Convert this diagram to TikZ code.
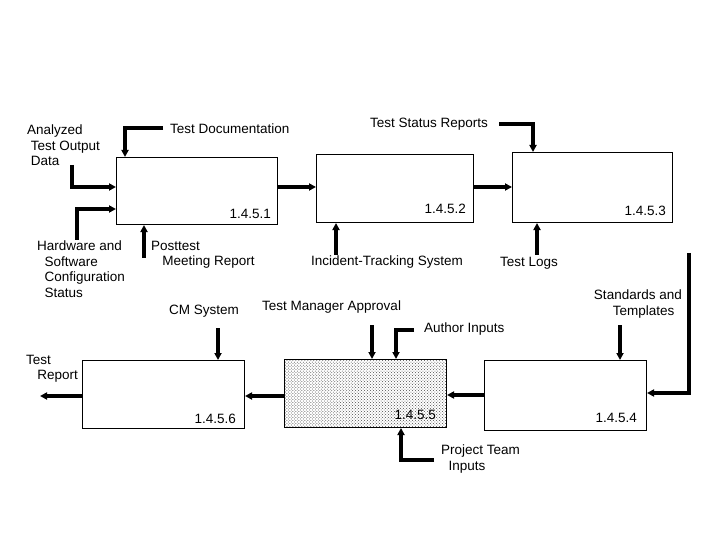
\documentclass[tikz,border=0pt]{standalone}
\usepackage{fontspec}
\setmainfont{Liberation Sans}
\usetikzlibrary{patterns,arrows.meta}
\begin{document}
\begin{tikzpicture}[x=1bp,y=-1bp,
 box/.style={draw,line width=1bp,fill=white},
 flow/.style={line width=3.2bp,-{Triangle[length=7bp,width=7bp]}},
 lbl/.style={font=\fontsize{13.5bp}{15.5bp}\selectfont,align=left,inner sep=0},
 num/.style={font=\fontsize{13.5bp}{15bp}\selectfont,inner sep=0,anchor=base east}]
\useasboundingbox (0,0) rectangle (720,540);
\node[box,minimum width=161bp,minimum height=67bp,anchor=north west] (b1) at (116,157) {};
\node[box,minimum width=157bp,minimum height=68bp,anchor=north west] (b2) at (316,154) {};
\node[box,minimum width=160bp,minimum height=70bp,anchor=north west] (b3) at (512,152) {};
\node[box,minimum width=162bp,minimum height=70bp,anchor=north west] (b4) at (484,360) {};
\node[box,minimum width=162bp,minimum height=68bp,anchor=north west,pattern=crosshatch dots,pattern color=black!70] (b5) at (284,359) {};
\node[box,minimum width=162bp,minimum height=68bp,anchor=north west] (b6) at (82,360) {};
\node[num] (n1) at (271,219) {1.4.5.1};
\node[num] (n2) at (466,214) {1.4.5.2};
\node[num] (n3) at (666,216) {1.4.5.3};
\node[num] (n4) at (637,422) {1.4.5.4};
\node[num] (n5) at (436,419) {1.4.5.5};
\node[num] (n6) at (236,423) {1.4.5.6};

\node[lbl,anchor=north west] (l1) at (27,125) {Analyzed\\\ Test Output\\\ Data};
\node[lbl,anchor=north west] (l2) at (37,241) {Hardware and\\\ \ Software\\\ \ Configuration\\\ \ Status};
\node[lbl,anchor=west] (l3) at (170,129) {Test Documentation};
\node[lbl,anchor=north west] (l4) at (151,241) {Posttest\\\ \ \ Meeting Report};
\node[lbl,anchor=west] (l5) at (370,124) {Test Status Reports};
\node[lbl,anchor=west] (l6) at (311,262) {Incident-Tracking System};
\node[lbl,anchor=west] (l7) at (500,263) {Test Logs};
\node[lbl,anchor=west] (l8) at (169,311) {CM System};
\node[lbl,anchor=west] (l9) at (262,307) {Test Manager Approval};
\node[lbl,anchor=west] (l10) at (424,329) {Author Inputs};
\node[lbl,anchor=north east,align=right] (l11) at (682,290) {Standards and\\Templates\ \ \ };
\node[lbl,anchor=north west] (l12) at (26,355) {Test\\\ \ \ Report};
\node[lbl,anchor=north west] (l13) at (441,445) {Project Team\\\ \ Inputs};

\coordinate (a1) at (72,165);
\draw[flow] (a1) |- (b1.west |- 0,187);
\coordinate (a2) at (77,240);
\draw[flow] (a2) |- (b1.west |- 0,209);
\coordinate (a3) at (163,128);
\draw[flow] (a3) -| (b1.north west -| 125,0);
\coordinate (a4) at (144,258);
\draw[flow] (a4) -- (b1.south -| 144,0);
\draw[flow] (b1.east |- 0,187) -- (b2.west |- 0,187);
\coordinate (a6) at (336,255);
\draw[flow] (a6) -- (b2.south -| 336,0);
\draw[flow] (b2.east |- 0,187) -- (b3.west |- 0,187);
\coordinate (a5) at (499,124);
\draw[flow] (a5) -| (b3.north -| 533,0);
\coordinate (a7) at (537,255);
\draw[flow] (a7) -- (b3.south -| 537,0);
\coordinate (a8) at (689,253);
\draw[flow] (a8) |- (b4.east |- 0,393);
\coordinate (a9) at (620,325);
\draw[flow] (a9) -- (b4.north -| 620,0);
\draw[flow] (b4.west |- 0,395) -- (b5.east |- 0,395);
\coordinate (a10) at (372,325);
\draw[flow] (a10) -- (b5.north -| 372,0);
\coordinate (a13) at (414,330);
\draw[flow] (a13) -| (b5.north -| 396,0);
\coordinate (a14) at (434,460);
\draw[flow] (a14) -| (b5.south -| 401,0);
\draw[flow] (b5.west |- 0,396) -- (b6.east |- 0,396);
\coordinate (a11) at (218,328);
\draw[flow] (a11) -- (b6.north -| 218,0);
\coordinate (a12) at (40,396);
\draw[flow] (b6.west |- 0,396) -- (a12);
\end{tikzpicture}
\end{document}
